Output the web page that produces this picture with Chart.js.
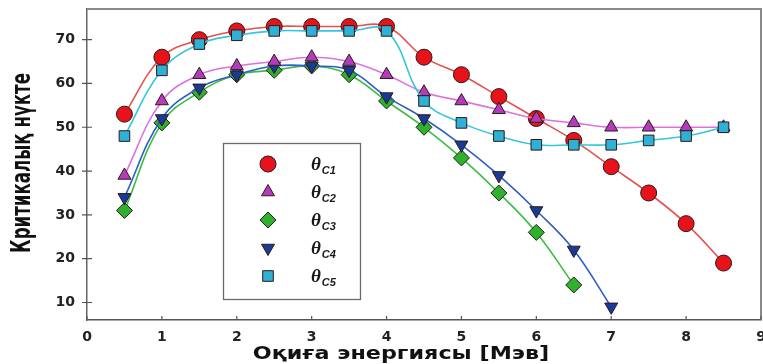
<!DOCTYPE html>
<html>
<head>
<meta charset="utf-8">
<script src="https://cdn.jsdelivr.net/npm/chart.js@4.4.1/dist/chart.umd.min.js"></script>
<style>
  html, body { margin: 0; padding: 0; background: #ffffff; overflow: hidden; }
  #wrap { width: 763px; height: 364px; overflow: hidden; position: relative; }
  canvas { display: block; }
</style>
</head>
<body>
<div id="wrap"><canvas id="chart" width="770" height="364"></canvas></div>
<script>
// Incident energy (MeV) at which each critical point was evaluated
const energy = [0.5, 1, 1.5, 2, 2.5, 3, 3.5, 4, 4.5, 5, 5.5, 6, 6.5, 7, 7.5, 8, 8.5];

// Critical points θC1 … θC5
const thetaC1 = [53, 66, 70, 72, 73, 73, 73, 73, 66, 62, 57, 52, 47, 41, 35, 28, 19];
const thetaC2 = [39, 56, 62, 64, 65, 66, 65, 62, 58, 56, 54, 52, 51, 50, 50, 50, 50];
const thetaC3 = [31, 51, 58, 62, 63, 64, 62, 56, 50, 43, 35, 26, 14];
const thetaC4 = [34, 52, 59, 62, 64, 64, 63, 57, 52, 46, 39, 31, 22, 9];
const thetaC5 = [48, 63, 69, 71, 72, 72, 72, 72, 56, 51, 48, 46, 46, 46, 47, 48, 50];

const seriesNames = ['θC1', 'θC2', 'θC3', 'θC4', 'θC5'];
const xTicks = [0, 1, 2, 3, 4, 5, 6, 7, 8, 9];
const yTicks = [10, 20, 30, 40, 50, 60, 70];
const xTitle = 'Оқиға энергиясы [Мэв]';
const yTitle = 'Критикалық нүкте';

const pairs = (vals) => vals.map((v, i) => ({ x: energy[i], y: v }));

const styles = [
  { line: '#e4524c', fill: '#e8121a', shape: 'circle',   radius: 8,   rotation: 0,   order: 5 },
  { line: '#e070dc', fill: '#b43cbc', shape: 'triangle', radius: 7.5, rotation: 0,   order: 2 },
  { line: '#3cbc40', fill: '#2eb22e', shape: 'rectRot',  radius: 8,   rotation: 0,   order: 4 },
  { line: '#2f5fc6', fill: '#1a3a98', shape: 'triangle', radius: 7.5, rotation: 180, order: 3 },
  { line: '#34c6da', fill: '#2fb0d6', shape: 'rect',     radius: 7.5, rotation: 0,   order: 1 }
];
const seriesValues = [thetaC1, thetaC2, thetaC3, thetaC4, thetaC5];

const datasets = seriesValues.map((vals, i) => ({
  label: seriesNames[i],
  data: pairs(vals),
  borderColor: styles[i].line,
  borderWidth: 1.6,
  tension: 0.4,
  fill: false,
  order: styles[i].order,
  pointStyle: styles[i].shape,
  pointRotation: styles[i].rotation,
  pointRadius: styles[i].radius,
  pointBackgroundColor: styles[i].fill,
  pointBorderColor: '#2a1a1a',
  pointBorderWidth: 1
}));

// Frame, inward tick marks and the (slightly widened) axis titles
const framePlugin = {
  id: 'frame',
  afterDraw(chart) {
    const { ctx, chartArea: a, scales } = chart;
    ctx.save();
    ctx.strokeStyle = '#8a8a8a';
    ctx.lineWidth = 2;
    ctx.beginPath();
    ctx.moveTo(a.left, a.top);
    ctx.lineTo(a.right, a.top);
    ctx.lineTo(a.right, a.bottom);
    ctx.stroke();

    ctx.strokeStyle = '#555';
    ctx.lineWidth = 1.2;
    ctx.beginPath();
    scales.x.ticks.forEach(t => {
      const px = scales.x.getPixelForValue(t.value);
      ctx.moveTo(px, a.bottom);
      ctx.lineTo(px, a.bottom - 4);
    });
    scales.y.ticks.forEach(t => {
      const py = scales.y.getPixelForValue(t.value);
      ctx.moveTo(a.left - 5, py);
      ctx.lineTo(a.left + 5, py);
    });
    ctx.stroke();

    ctx.fillStyle = '#111';
    ctx.textAlign = 'center';
    ctx.textBaseline = 'middle';

    // x-axis title, wide bold lettering
    ctx.save();
    ctx.translate(401, 355);
    ctx.scale(1.31, 1);
    ctx.font = 'bold 17px "DejaVu Sans", sans-serif';
    ctx.fillText(xTitle, 0, 0);
    ctx.restore();

    // y-axis title, rotated, tall condensed lettering
    ctx.save();
    ctx.translate(23, 163);
    ctx.rotate(-Math.PI / 2);
    ctx.scale(1, 1.4);
    ctx.font = 'bold 18.5px "DejaVu Sans Condensed", "DejaVu Sans", sans-serif';
    ctx.fillText(yTitle, 0, 0);
    ctx.restore();

    ctx.restore();
  }
};

const legendPlugin = {
  id: 'boxLegend',
  afterDraw(chart) {
    const { ctx } = chart;
    const box = { x: 223.5, y: 143.5, w: 137, h: 156 };
    ctx.save();
    ctx.fillStyle = '#ffffff';
    ctx.fillRect(box.x, box.y, box.w, box.h);
    ctx.strokeStyle = '#6a6a6a';
    ctx.lineWidth = 1.3;
    ctx.strokeRect(box.x, box.y, box.w, box.h);

    chart.data.datasets.forEach((ds, i) => {
      const cy = 164 + i * 28;
      ctx.fillStyle = ds.pointBackgroundColor;
      ctx.strokeStyle = ds.pointBorderColor;
      ctx.lineWidth = 1;
      Chart.helpers.drawPoint(ctx, {
        pointStyle: ds.pointStyle,
        rotation: ds.pointRotation,
        radius: ds.pointRadius,
        borderWidth: 1
      }, 268, cy);

      const name = ds.label;
      ctx.fillStyle = '#1a1a1a';
      ctx.textBaseline = 'alphabetic';
      ctx.textAlign = 'left';
      ctx.font = 'italic bold 19px "Liberation Serif", serif';
      ctx.fillText(name.charAt(0), 311, cy + 6);
      const w = ctx.measureText(name.charAt(0)).width;
      ctx.font = 'italic bold 11px "Liberation Sans", sans-serif';
      ctx.fillText(name.slice(1), 311 + w + 1, cy + 10);
    });
    ctx.restore();
  }
};

new Chart(document.getElementById('chart'), {
  type: 'line',
  data: { datasets },
  options: {
    responsive: false,
    animation: false,
    layout: { padding: { top: 9, right: 5, left: 0, bottom: 0 } },
    plugins: { legend: { display: false }, tooltip: { enabled: false } },
    scales: {
      x: {
        type: 'linear',
        min: xTicks[0],
        max: xTicks[xTicks.length - 1],
        afterBuildTicks: (s) => { s.ticks = xTicks.map(v => ({ value: v })); },
        afterFit: (s) => { s.height = 44; s.paddingLeft = 0; s.paddingRight = 0; },
        grid: { display: true, drawOnChartArea: false, drawTicks: false },
        border: { color: '#555', width: 1.5 },
        ticks: {
          padding: 9,
          color: '#222',
          font: { family: '"DejaVu Sans", sans-serif', weight: 'bold', size: 14 }
        },
        title: { display: false }
      },
      y: {
        type: 'linear',
        min: 6,
        max: 77,
        afterBuildTicks: (s) => { s.ticks = yTicks.map(v => ({ value: v })); },
        afterFit: (s) => { s.width = 87; s.paddingTop = 0; s.paddingBottom = 0; },
        grid: { display: true, drawOnChartArea: false, drawTicks: false },
        border: { color: '#666', width: 1.5 },
        ticks: {
          padding: 12,
          color: '#222',
          font: { family: '"DejaVu Sans", sans-serif', weight: 'bold', size: 14 }
        },
        title: { display: false }
      }
    }
  },
  plugins: [framePlugin, legendPlugin]
});
</script>
</body>
</html>
